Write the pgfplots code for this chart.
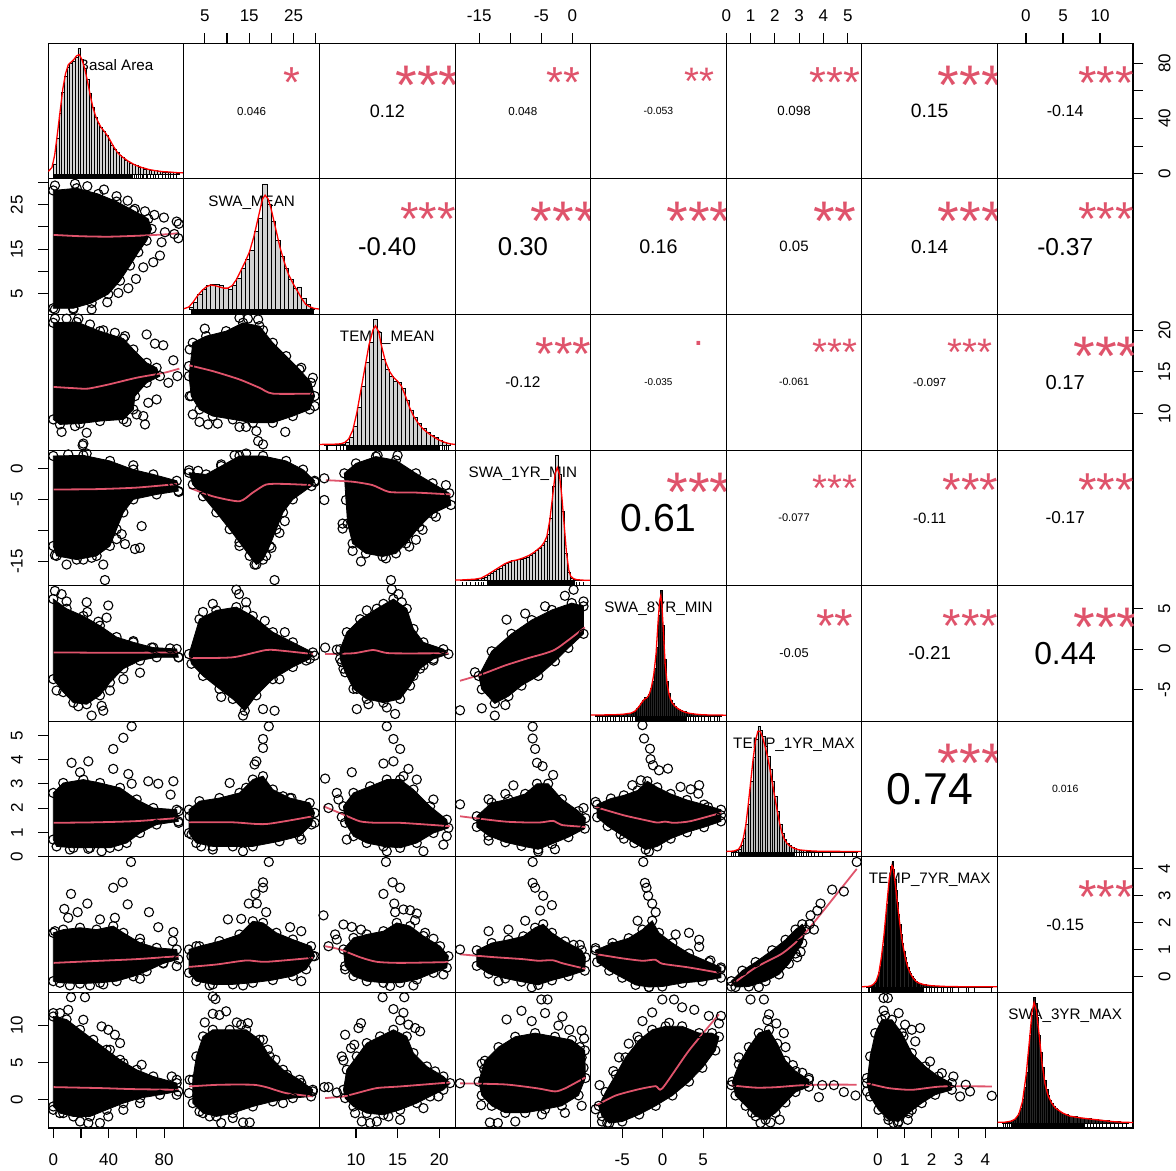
\documentclass[border=0pt]{standalone}
\usepackage{fontspec}
\setmainfont{Liberation Sans}
\usepackage{pgfplots}
\pgfplotsset{compat=1.18}
\usepgfplotslibrary{groupplots}
\definecolor{smoothc}{HTML}{DF536B}
\definecolor{starc}{HTML}{DF536B}
\definecolor{rlg}{HTML}{D3D3D3}
\pgfplotsset{
 core/.style={fill=black, draw=black, line width=0.8pt, mark=o, mark size=4.6pt, mark options={fill=none, draw=black, line width=1.1pt}},
 pts/.style={only marks, black, mark=o, mark size=4.6pt, mark options={line width=1.1pt}},
 sm/.style={color=smoothc, line width=1.8pt, no marks, smooth, tension=0.4},
 bars/.style={ybar interval, fill=rlg, draw=black},
 dens/.style={color=red, line width=1.3pt, no marks},
 rug/.style={only marks, black, mark=|, mark size=2.05pt, mark options={line width=0.6pt}},
 X1/.style={xmin=-3.6,xmax=94.3}, Y1/.style={ymin=-3.6,ymax=94.3},
 X2/.style={xmin=0.3,xmax=30.8}, Y2/.style={ymin=0.3,ymax=30.8},
 X3/.style={xmin=5.62,xmax=21.9}, Y3/.style={ymin=5.62,ymax=21.9},
 X4/.style={xmin=-18.9,xmax=2.95}, Y4/.style={ymin=-18.9,ymax=2.95},
 X5/.style={xmin=-8.9,xmax=7.85}, Y5/.style={ymin=-8.9,ymax=7.85},
 X6/.style={xmin=0,xmax=5.58}, Y6/.style={ymin=0,ymax=5.58},
 X7/.style={xmin=-0.6,xmax=4.45}, Y7/.style={ymin=-0.6,ymax=4.45},
 X8/.style={xmin=-3.85,xmax=14.45}, Y8/.style={ymin=-3.85,ymax=14.45},
 D1/.style={xmin=-3.68,xmax=95.68,ymin=-4,ymax=104},
 D2/.style={xmin=-0.16,xmax=31.16,ymin=-4,ymax=104},
 D3/.style={xmin=5.38,xmax=22.12,ymin=-4,ymax=104},
 D4/.style={xmin=-19.34,xmax=3.34,ymin=-4,ymax=104},
 D5/.style={xmin=-9.14,xmax=8.14,ymin=-4,ymax=104},
 D6/.style={xmin=-0.008,xmax=5.608,ymin=-4,ymax=104},
 D7/.style={xmin=-0.64,xmax=4.49,ymin=-4,ymax=104},
 D8/.style={xmin=-3.94,xmax=14.69,ymin=-4,ymax=104},
 topt/.style={xtick pos=right, xticklabel pos=right, xticklabel shift=8pt},
 bott/.style={xtick pos=left, xticklabel pos=left, xticklabel shift=12pt},
 leftt/.style={ytick pos=left, yticklabel pos=left, yticklabel shift=12pt, yticklabel style={rotate=90, anchor=south}},
 rightt/.style={ytick pos=right, yticklabel pos=right, yticklabel shift=12pt, yticklabel style={rotate=90, anchor=north}},
 T2/.style={topt, xtick={5,10,15,20,25,30}, xticklabels={5,,15,,25,}},
 T4/.style={topt, xtick={-15,-10,-5,0}, xticklabels={-15,,-5,0}},
 T6/.style={topt, xtick={0,1,2,3,4,5}, xticklabels={0,1,2,3,4,5}},
 T8/.style={topt, xtick={0,5,10}, xticklabels={0,5,10}},
 B1/.style={bott, xtick={0,20,40,60,80}, xticklabels={0,,40,,80}},
 B3/.style={bott, xtick={10,15,20}, xticklabels={10,15,20}},
 B5/.style={bott, xtick={-5,0,5}, xticklabels={-5,0,5}},
 B7/.style={bott, xtick={0,1,2,3,4}, xticklabels={0,1,2,3,4}},
 L2/.style={leftt, ytick={5,10,15,20,25,30}, yticklabels={5,,15,,25,}},
 L4/.style={leftt, ytick={-15,-10,-5,0}, yticklabels={-15,,-5,0}},
 L6/.style={leftt, ytick={0,1,2,3,4,5}, yticklabels={0,1,2,3,4,5}},
 L8/.style={leftt, ytick={0,5,10}, yticklabels={0,5,10}},
 R1/.style={rightt, ytick={0,20,40,60,80}, yticklabels={0,,40,,80}},
 R3/.style={rightt, ytick={10,15,20}, yticklabels={10,15,20}},
 R5/.style={rightt, ytick={-5,0,5}, yticklabels={-5,0,5}},
 R7/.style={rightt, ytick={0,1,2,3,4}, yticklabels={0,1,2,3,4}},
}
\newcommand\cor[4]{%
 \node[inner sep=0pt, font=\fontsize{#2}{#2}\selectfont] at (rel axis cs:0.5,0.5) {#1};
 \node[inner sep=0pt, anchor=base, text=starc, font=\fontsize{#4}{#4}\selectfont, yshift={-0.573*#4pt}] at (rel axis cs:0.8,0.785) {#3};}
\newcommand\cordot[3]{%
 \node[inner sep=0pt, font=\fontsize{#2}{#2}\selectfont] at (rel axis cs:0.5,0.5) {#1};
 \node[inner sep=0pt, anchor=base, text=starc, font=\fontsize{#3}{#3}\selectfont, yshift={-0.05*#3pt}] at (rel axis cs:0.8,0.785) {.};}
\newcommand\scat[3]{%
 \addplot[core] coordinates {#1} -- cycle;
 \addplot[pts] coordinates {#2};
 \addplot[sm] coordinates {#3};}
\newcommand\diag[7]{%
 \node[font=\fontsize{15.2}{15.2}\selectfont, anchor=base, inner sep=0pt] at (rel axis cs:0.5,0.80) {#1};
 \addplot[bars, #7] coordinates {#2};
 \addplot[dens] coordinates {#3};
 \addplot[fill=black, draw=black, line width=0.4pt] coordinates {(#4,-4)(#5,-4)(#5,-0.76)(#4,-0.76)} -- cycle;
 \addplot[rug] coordinates {#6};}
\begin{document}
\begin{tikzpicture}
\begin{groupplot}[group style={group name=G, group size=8 by 8, horizontal sep=0pt, vertical sep=0pt},
 scale only axis, width=135.6pt, height=135.6pt, xtick=\empty, ytick=\empty,
 axis line style={line width=1.1pt}, tick style={line width=1.1pt, black}, major tick length=10pt, tick align=outside,
 tick label style={font=\fontsize{17}{17}\selectfont}]
%%%%%%%%%%%%%%%% ROW 1
\nextgroupplot[D1]
\diag{Basal Area}{(0,8)(2,28)(4,48)(6,65)(8,78)(10,85)(12,88)(14,90)(16,93)(18,100)(20,91)(22,84)(24,75)(26,64)(28,53)(30,45)(32,40)(34,37)(36,34)(38,31)(40,27)(42,23)(44,20)(46,17)(48,15)(50,13)(52,11)(54,10)(56,8.5)(58,7.5)(60,6.5)(62,5.5)(64,5)(66,4)(68,3.5)(70,3)(72,3)(74,2.5)(76,2)(78,2)(80,1.5)(82,1.5)(84,1)(86,1.5)(88,1)(90,0.5)(92,0.5)}
{(-3.7,2)(-1,5)(1,15)(3,32)(5,50)(7,68)(9,80)(11,87)(13,89)(15,91)(17,94)(19,95)(21,91)(23,84)(25,74)(27,63)(29,53)(31,46)(33,41)(35,37)(38,33)(41,28)(44,22)(47,17)(50,14)(55,10)(60,7)(65,5)(70,3.5)(75,2.5)(80,1.8)(85,1.5)(90,1)(95,0.8)}
{0}{57}{(58,-2.38)(59.5,-2.38)(61,-2.38)(62,-2.38)(63.5,-2.38)(65,-2.38)(66,-2.38)(68,-2.38)(69,-2.38)(71,-2.38)(73,-2.38)(75,-2.38)(77,-2.38)(80,-2.38)(82,-2.38)(84,-2.38)(86,-2.38)(88,-2.38)(90,-2.38)}{line width=0.5pt}
\nextgroupplot[X2,Y1,T2] \cor{0.046}{11.55}{*}{43.4}
\nextgroupplot[X3,Y1] \cor{0.12}{18.0}{***}{55.8}
\nextgroupplot[X4,Y1,T4] \cor{0.048}{11.6}{**}{43.4}
\nextgroupplot[X5,Y1] \cor{-0.053}{10.4}{**}{38.3}
\nextgroupplot[X6,Y1,T6] \cor{0.098}{13.3}{***}{43.4}
\nextgroupplot[X7,Y1] \cor{0.15}{19.3}{***}{55.8}
\nextgroupplot[X8,Y1,T8,R1] \cor{-0.14}{16.1}{***}{47.6}
%%%%%%%%%%%%%%%% ROW 2
\nextgroupplot[X1,Y2,L2]
\scat{(0.0,28.2)(16.9,28.7)(32.5,27.4)(45.7,25.7)(57.8,23.7)(68.6,21.8)(71.0,19.55)(67.4,16.9)(61.4,14.3)(55.4,11.3)(48.2,7.9)(39.7,4.9)(27.7,2.9)(14.5,1.7)(0.0,1.7)}
{(15.7,29.7)(24.6,29.15)(36.6,28.4)(45.7,26.9)(53.7,25.9)(59.0,24.05)(66.2,23.5)(73.0,22.7)(79.9,22.1)(89.1,21.2)(90.6,20.7)(87.4,18.4)(90.3,17.45)(80.6,18.8)(78.2,16.55)(77.0,13.55)(72.2,12.05)(65.0,10.9)(59.7,8.3)(54.2,6.2)(47.0,5.15)(39.0,3.05)(27.7,1.45)(14.5,1.45)(1.2,1.45)(1.2,29.3)}
{(0.2,18.2)(20,17.9)(40,17.8)(60,18.0)(80,18.3)(90.5,18.6)}
\nextgroupplot[D2]
\diag{SWA\_MEAN}{(1,2)(2,6)(3,12)(4,16)(5,19)(6,20)(7,20)(8,19)(9,17)(10,16)(11,19)(12,25)(13,33)(14,40)(15,47)(16,62)(17,73)(18,100)(19,84)(20,70)(21,55)(22,42)(23,33)(24,24)(25,17)(26,18)(27,9)(28,4)(29,1)(30,1)}
{(-0.2,0.5)(1,2)(2,6)(3,11)(4,15)(5,18)(6,19.5)(7,19)(8,18)(9,17)(10,17)(11,19)(12,24)(13,31)(14,38)(15,46)(16,58)(17,73)(18,88)(18.6,91)(19.3,88)(20,80)(21,65)(22,50)(23,38)(24,28)(25,21)(26,15)(27,9)(28,4)(29,2)(30,0.8)(31.2,0.3)}
{1.45}{29.7}{(1.45,-2.38)}{line width=0.5pt}
\nextgroupplot[X3,Y2] \cor{-0.40}{25.6}{***}{47.6}
\nextgroupplot[X4,Y2] \cor{0.30}{25.75}{***}{55.8}
\nextgroupplot[X5,Y2] \cor{0.16}{19.7}{***}{55.8}
\nextgroupplot[X6,Y2] \cor{0.05}{15.0}{**}{55.8}
\nextgroupplot[X7,Y2] \cor{0.14}{18.9}{***}{55.8}
\nextgroupplot[X8,Y2] \cor{-0.37}{24.5}{***}{47.6}
%%%%%%%%%%%%%%%% ROW 3
\nextgroupplot[X1,Y3]
\scat{(0.0,20.9)(16.9,21.0)(33.7,19.9)(50.6,19.0)(57.8,17.7)(67.4,16.1)(74.6,15.5)(77.0,14.5)(67.4,13.7)(59.0,12.1)(57.8,10.5)(50.6,9.3)(33.7,9.1)(19.3,8.8)(4.8,8.7)(0.0,9.3)}
{(1.2,21.4)(9.6,21.4)(18.1,21.4)(26.5,20.7)(36.1,20.0)(44.5,19.7)(51.8,19.3)(67.4,19.5)(73.4,18.4)(79.4,18.2)(86.7,16.4)(89.6,14.5)(83.1,13.7)(74.6,11.7)(68.6,11.3)(65.0,9.7)(60.2,9.9)(53.0,9.0)(66.2,8.7)(15.7,8.5)(6.0,7.8)(24.1,7.7)(21.7,6.4)(21.2,6.2)}
{(0.2,13.2)(15,13.05)(25,13.0)(40,13.5)(60,14.3)(80,14.9)(91,15.4)}
\nextgroupplot[X2,Y3]
\scat{(2.3,18.5)(5.3,19.3)(9.8,19.9)(13.6,20.9)(17.3,20.5)(20.3,18.5)(23.3,16.9)(26.3,15.3)(28.9,13.7)(29.7,12.1)(28.6,10.5)(24.8,9.7)(20.3,8.9)(15.8,8.9)(11.3,9.3)(6.8,9.7)(3.8,10.5)(1.95,12.1)(1.45,14.5)}
{(1.6,17.7)(1.45,15.7)(5.0,20.2)(12.8,21.5)(14.7,21.4)(17.0,21.3)(18.1,20.0)(26.7,15.5)(29.3,14.3)(29.7,10.9)(23.1,7.8)(16.6,7.9)(14.3,8.4)(12.8,8.4)(18.1,6.3)(17.0,6.7)(7.9,8.8)(5.7,8.7)(3.8,9.0)(2.3,9.9)(1.6,12.1)}
{(1.45,15.8)(6.8,15.1)(12.8,14.1)(17.3,13.1)(20.3,12.4)(29.3,12.4)}
\nextgroupplot[D3]
\diag{TEMP\_MEAN}{(6,0.3)(6.5,0.3)(7,0.4)(7.5,0.5)(8,0.8)(8.5,2)(9,6)(9.5,15)(10,30)(10.5,47)(11,66)(11.5,82)(12,100)(12.5,90)(13,68)(13.5,60)(14,55)(14.5,51)(15,50)(15.5,45)(16,36)(16.5,28)(17,22)(17.5,17)(18,13)(18.5,10)(19,8)(19.5,6)(20,4)(20.5,2.5)(21,1.2)(21.5,1.2)}
{(5.4,0.5)(7,0.6)(8,1)(8.5,2)(9,5)(9.5,12)(10,26)(10.5,44)(11,62)(11.5,80)(12,92)(12.3,95)(12.7,90)(13,80)(13.5,67)(14,59)(14.5,54)(15,51)(15.5,47)(16,39)(16.5,30)(17,23)(17.5,18)(18,14)(18.5,11)(19,8.5)(19.5,6.5)(20,4.5)(20.5,3)(21,1.8)(21.5,1)(22.1,0.5)}
{8.7}{20.2}{(6.2,-2.38)(6.4,-2.38)(7.5,-2.38)(8.0,-2.38)(8.3,-2.38)(20.5,-2.38)(20.8,-2.38)(21.0,-2.38)(21.3,-2.38)}{line width=0.5pt}
\nextgroupplot[X4,Y3] \cor{-0.12}{15.4}{***}{47.6}
\nextgroupplot[X5,Y3] \cordot{-0.035}{9.9}{38.3}
\nextgroupplot[X6,Y3] \cor{-0.061}{10.6}{***}{38.3}
\nextgroupplot[X7,Y3] \cor{-0.097}{11.7}{***}{38.3}
\nextgroupplot[X8,Y3,R3] \cor{0.17}{20.2}{***}{55.8}
%%%%%%%%%%%%%%%% ROW 4
\nextgroupplot[X1,Y4,L4]
\scat{(0.0,2.0)(21.7,2.1)(40.9,1.2)(57.8,-0.2)(72.2,-0.97)(89.1,-2.0)(90.3,-3.65)(74.6,-4.2)(57.8,-5.0)(50.6,-7.1)(45.7,-9.8)(40.9,-12.5)(31.3,-14.1)(16.9,-14.7)(2.4,-14.1)(0.0,-12.5)}
{(10.8,2.25)(24.1,2.4)(57.8,0.5)(86.7,-2.6)(90.6,-3.8)(63.8,-9.3)(62.6,-12.8)(59.0,-13.0)(49.4,-10.6)(51.8,-12.2)(36.1,-15.5)(37.3,-18.0)(6.0,-13.5)(1.2,-14.0)(9.6,-15.5)(21.7,-14.7)(27.7,-14.4)(45.7,-11.4)}
{(0.2,-3.4)(30,-3.35)(60,-3.1)(90.5,-2.5)}
\nextgroupplot[X2,Y4]
\scat{(1.45,-0.7)(5.3,-0.97)(8.7,0.37)(12.8,2.0)(18.1,2.0)(23.3,1.2)(27.1,-0.2)(29.7,-2.0)(29.0,-2.85)(24.8,-5.0)(22.6,-7.1)(21.1,-9.8)(19.6,-12.5)(18.1,-14.7)(16.6,-15.5)(15.1,-14.1)(12.8,-11.9)(10.6,-9.8)(7.6,-7.1)(4.6,-4.5)(2.3,-2.6)}
{(8.7,0.64)(11.7,2.1)(14.3,2.4)(29.7,-2.2)(23.0,-8.5)(21.8,-10.4)(20.0,-12.8)(18.8,-14.1)(16.2,-15.5)(20.7,-18.0)(12.8,-12.5)(1.45,-0.3)(3.5,-0.4)}
{(1.45,-3.1)(6.8,-4.5)(12.8,-5.3)(15.8,-3.9)(18.8,-2.6)(22.6,-2.5)(29.3,-2.7)}
\nextgroupplot[X3,Y4]
\scat{(8.6,-0.8)(10.0,0.8)(12.4,1.9)(14.8,1.3)(17.2,-0.8)(19.2,-2.4)(21.2,-4.0)(21.4,-5.9)(19.2,-7.3)(17.6,-9.4)(16.0,-12.1)(14.8,-13.7)(13.2,-14.2)(11.2,-13.7)(9.6,-12.1)(9.0,-8.9)(8.8,-5.1)}
{(6.2,-1.6)(6.2,-5.1)(8.4,-8.9)(8.4,-9.7)(15.0,2.1)(12.6,2.1)(20.8,-2.7)(19.6,-7.8)(18.0,-9.9)(17.2,-11.5)(16.4,-12.6)(10.6,-15.0)(13.6,-14.5)(14.2,-18.0)(9.6,-13.3)}
{(6.4,-1.9)(9.6,-2.15)(12.0,-2.7)(14.0,-3.8)(17.2,-3.9)(21.4,-4.2)}
\nextgroupplot[D4]
\diag{SWA\_1YR\_MIN}{(-18.5,0.3)(-18,0.3)(-17.5,0.5)(-17,0.5)(-16.5,1)(-16,1)(-15.5,1.5)(-15,2)(-14.5,3)(-14,4.5)(-13.5,6)(-13,7.5)(-12.5,9)(-12,10)(-11.5,12)(-11,14)(-10.5,15)(-10,16)(-9.5,16.5)(-9,17)(-8.5,17)(-8,18)(-7.5,19)(-7,20)(-6.5,22)(-6,24)(-5.5,26)(-5,28)(-4.5,31)(-4,37)(-3.5,50)(-3,75)(-2.5,100)(-2,85)(-1.5,55)(-1,22)(-0.5,7)(0,2)(0.5,1)(1,0.6)(1.5,0.4)(2,0.3)(2.5,0.3)}
{(-19.3,0.5)(-18,0.6)(-16,1.2)(-15,2)(-14,4.5)(-13,7.5)(-12,10.5)(-11,13.5)(-10,15.5)(-9,16.5)(-8,18)(-7,20)(-6,23)(-5,27)(-4.5,30)(-4,35)(-3.5,48)(-3,68)(-2.6,85)(-2.25,90)(-1.9,85)(-1.5,68)(-1.1,45)(-0.7,22)(-0.3,8)(0,3.5)(0.5,1.5)(1,0.8)(2,0.4)(3.3,0.3)}
{-14}{0.6}{(-18.1,-2.38)(-17.5,-2.38)(-16.8,-2.38)(-16,-2.38)(-15.5,-2.38)(-15,-2.38)(-14.6,-2.38)(1.0,-2.38)(1.5,-2.38)(2.1,-2.38)}{line width=0.55pt}
\nextgroupplot[X5,Y4] \cor{0.61}{39.1}{***}{55.8}
\nextgroupplot[X6,Y4] \cor{-0.077}{11.1}{***}{38.3}
\nextgroupplot[X7,Y4] \cor{-0.11}{15.0}{***}{47.6}
\nextgroupplot[X8,Y4] \cor{-0.17}{17.2}{***}{47.6}
%%%%%%%%%%%%%%%% ROW 5
\nextgroupplot[X1,Y5]
\scat{(0.0,6.2)(9.6,5.0)(21.7,4.1)(33.7,2.9)(45.7,1.5)(57.8,0.85)(72.2,0.2)(89.1,0.03)(90.3,-1.0)(74.6,-1.0)(62.6,-1.4)(50.6,-2.4)(40.9,-4.1)(33.7,-5.7)(24.1,-6.8)(14.5,-6.6)(7.2,-5.3)(0.0,-3.7)}
{(1.2,7.2)(6.0,6.8)(9.6,5.9)(24.1,5.8)(24.6,4.6)(39.7,5.4)(32.5,3.4)(38.5,3.9)(57.8,1.0)(71.0,0.2)(84.3,0.1)(90.5,-1.0)(62.6,-2.9)(50.6,-3.7)(40.9,-5.1)(36.1,-7.6)(27.7,-8.2)(18.1,-7.05)(2.4,-5.1)(34.9,-7.0)}
{(0.2,-0.4)(20,-0.42)(45,-0.45)(70,-0.42)(90.5,-0.4)}
\nextgroupplot[X2,Y5]
\scat{(1.45,-0.6)(3.8,3.7)(7.6,4.8)(12.1,5.2)(15.8,4.1)(20.3,2.1)(24.8,0.85)(29.3,-0.4)(28.6,-1.2)(24.8,-2.2)(20.3,-3.7)(16.6,-5.7)(14.0,-7.6)(11.3,-6.15)(8.3,-4.9)(4.6,-3.3)(2.0,-1.8)}
{(12.1,7.35)(12.7,6.8)(6.8,5.6)(14.3,5.8)(14.3,4.8)(18.5,3.5)(23.0,2.1)(4.6,4.6)(21.8,-3.7)(18.1,-7.4)(20.7,-7.6)(13.6,-8.2)(8.7,-5.9)(27.8,-1.4)(29.7,-0.8)}
{(1.45,-1.1)(11.3,-1.0)(18.8,-0.1)(22.6,-0.2)(29.3,-0.6)}
\nextgroupplot[X3,Y5]
\scat{(8.1,0.0)(8.9,2.1)(10.5,3.7)(12.5,5.0)(14.5,6.2)(16.1,5.0)(16.9,2.5)(18.1,0.85)(20.5,0.0)(21.1,-0.6)(19.3,-1.2)(17.7,-2.4)(16.5,-4.5)(15.3,-6.15)(13.3,-6.6)(11.3,-6.15)(9.7,-4.9)(8.7,-2.85)(8.1,-1.2)}
{(6.3,0.2)(7.7,-0.05)(8.3,-1.6)(8.5,-2.4)(10.1,-4.9)(10.1,-7.4)(11.5,-6.8)(13.7,-7.2)(14.7,-8.0)(14.3,7.4)(15.1,6.8)(15.5,5.8)(11.3,4.8)(13.3,5.6)(16.9,-3.3)(18.1,-2.0)(19.3,-1.4)}
{(6.3,-0.6)(9.7,-0.5)(12.1,-0.1)(14.1,-0.5)(21.1,-0.5)}
\nextgroupplot[X4,Y5]
\scat{(-15.1,-3.3)(-13.0,-0.26)(-9.8,1.9)(-6.55,3.6)(-3.3,4.85)(-0.1,5.7)(1.8,5.3)(1.8,1.9)(-0.64,0.15)(-2.8,-1.5)(-5.5,-3.3)(-8.2,-4.5)(-10.3,-5.8)(-12.5,-6.7)(-14.6,-4.95)}
{(-18.1,-7.55)(-14.6,-7.3)(-12.5,-8.2)(-10.8,-6.9)(-15.7,-2.85)(-10.6,3.65)(-7.6,4.4)(0.2,7.35)(1.8,5.9)(-1.2,6.6)(-4.4,5.3)}
{(-18.1,-3.9)(-14.6,-3.1)(-10.8,-2.0)(-7.1,-1.1)(-2.8,-0.05)(2.0,2.7)}
\nextgroupplot[D5]
\diag{SWA\_8YR\_MIN}{(-8.5,0.5)(-8,0.5)(-7.5,0.6)(-7,0.7)(-6.5,0.8)(-6,1)(-5.5,1.2)(-5,1.5)(-4.5,2)(-4,2.5)(-3.75,3)(-3.5,4)(-3.25,6)(-3,8)(-2.75,10)(-2.5,13)(-2.25,15)(-2,14)(-1.75,17)(-1.5,22)(-1.25,28)(-1,38)(-0.75,55)(-0.5,80)(-0.25,100)(0,72)(0.25,45)(0.5,28)(0.75,18)(1,13)(1.25,10)(1.5,8)(1.75,6.5)(2,5.5)(2.25,4.5)(2.5,4)(2.75,3.5)(3,3)(3.25,2.5)(3.5,2.2)(3.75,2)(4,1.6)(4.5,1.3)(5,1.1)(5.5,1)(6,0.8)(6.5,0.6)(7,0.5)(7.5,0.5)}
{(-9.1,1)(-8,1)(-6,1.2)(-5,1.6)(-4,2.5)(-3.5,4)(-3,7.5)(-2.5,12)(-2.2,14)(-2,14.5)(-1.7,17)(-1.4,23)(-1.1,33)(-0.8,50)(-0.55,75)(-0.35,92)(-0.2,96)(-0.05,88)(0.15,65)(0.35,42)(0.6,26)(0.9,16)(1.2,11)(1.6,8)(2,6)(2.5,4.2)(3,3)(3.5,2.3)(4,1.8)(5,1.2)(6,1)(7,1)(8.1,0.8)}
{-3.5}{3.0}{(-8.3,-2.38)(-8,-2.38)(-7.6,-2.38)(-7.3,-2.38)(-7,-2.38)(-6.6,-2.38)(-6.2,-2.38)(-6,-2.38)(-5.5,-2.38)(-5.2,-2.38)(-4.8,-2.38)(-4.5,-2.38)(-4.1,-2.38)(-3.8,-2.38)(3.3,-2.38)(3.6,-2.38)(3.9,-2.38)(4.2,-2.38)(4.6,-2.38)(5.0,-2.38)(5.3,-2.38)(5.8,-2.38)(6.1,-2.38)(6.6,-2.38)(7.0,-2.38)(7.2,-2.38)}{line width=0.8pt, fill=black!85}
\nextgroupplot[X6,Y5] \cor{-0.05}{12.8}{**}{47.6}
\nextgroupplot[X7,Y5] \cor{-0.21}{18.7}{***}{47.6}
\nextgroupplot[X8,Y5,R5] \cor{0.44}{31.8}{***}{55.8}
%%%%%%%%%%%%%%%% ROW 6
\nextgroupplot[X1,Y6,L6]
\scat{(0.0,2.63)(7.2,3.04)(21.7,3.18)(33.7,3.04)(48.2,2.84)(60.2,2.36)(72.2,2.01)(89.1,1.94)(90.3,1.46)(74.6,1.33)(62.6,0.98)(53.0,0.57)(40.9,0.37)(26.5,0.37)(14.5,0.37)(2.4,0.43)(0.0,0.71)}
{(56.6,5.37)(50.6,4.9)(43.3,4.44)(43.3,3.62)(25.3,3.93)(13.2,3.87)(19.3,3.48)(54.2,3.41)(56.6,3.01)(68.6,3.11)(75.8,3.01)(86.7,3.11)(84.7,2.56)(90.5,1.88)(90.5,1.4)(34.9,0.23)(47.0,0.44)(25.3,0.33)(12.0,0.3)}
{(0.2,1.40)(30,1.42)(60,1.47)(90.5,1.60)}
\nextgroupplot[X2,Y6]
\scat{(1.45,1.94)(3.8,2.29)(8.3,2.42)(12.8,2.63)(15.8,3.18)(18.1,3.32)(20.3,2.77)(24.1,2.42)(28.6,2.22)(29.7,1.81)(29.0,1.33)(26.3,0.85)(21.8,0.64)(15.8,0.43)(11.3,0.43)(6.8,0.43)(3.1,0.57)(1.45,0.98)}
{(19.4,5.37)(18.1,4.85)(18.1,4.48)(16.6,3.93)(16.2,3.8)(10.6,3.04)(14.3,2.84)(2.0,0.92)(1.6,1.67)(4.2,0.43)(6.8,0.3)(13.6,0.23)(26.7,0.71)(29.7,1.4)(22.6,2.49)(24.5,2.42)}
{(1.45,1.42)(11.3,1.42)(18.8,1.35)(29.3,1.67)}
\nextgroupplot[X3,Y6]
\scat{(8.5,2.08)(9.7,2.63)(11.7,2.9)(13.7,3.18)(15.3,3.18)(16.9,2.77)(18.9,2.08)(20.9,1.53)(21.1,1.19)(19.3,0.98)(17.3,0.57)(15.3,0.37)(13.3,0.43)(11.3,0.57)(9.7,0.85)(8.7,1.40)}
{(6.3,3.22)(6.7,2.01)(7.7,2.63)(7.9,2.36)(8.3,1.64)(8.9,0.71)(9.5,3.48)(13.7,5.37)(14.5,4.85)(15.3,4.44)(13.3,3.84)(14.5,3.93)(16.3,3.62)(15.7,3.32)(17.3,3.18)(19.3,2.36)(20.9,0.85)(18.1,0.23)(13.7,0.23)(20.5,0.5)}
{(6.1,2.08)(8.5,1.74)(10.5,1.46)(12.5,1.40)(15.3,1.40)(21.3,1.26)}
\nextgroupplot[X4,Y6]
\scat{(-15.4,1.67)(-13.0,2.23)(-10.3,2.37)(-7.6,2.59)(-5.7,3.01)(-3.9,3.01)(-1.7,2.37)(1.0,1.88)(2.1,1.59)(2.0,1.16)(-0.64,0.81)(-3.3,0.53)(-5.5,0.31)(-8.2,0.45)(-10.8,0.6)(-13.5,0.87)(-15.4,1.23)}
{(-18.1,2.16)(-6.4,5.36)(-6.4,4.87)(-6.0,4.44)(-5.7,3.87)(-4.8,3.73)(-3.1,3.37)(-9.5,2.94)(-10.8,2.59)(-13.5,2.37)(1.8,2.01)(-2.8,0.31)(-5.5,0.22)(-13.5,0.67)}
{(-18.1,1.67)(-10.8,1.45)(-5.5,1.41)(-3.1,1.48)(-1.7,1.31)(2.1,1.23)}
\nextgroupplot[X5,Y6]
\scat{(-8.1,2.15)(-6.4,2.40)(-4.8,2.53)(-3.1,2.73)(-1.9,3.11)(-0.67,2.86)(0.98,2.59)(3.0,2.34)(5.1,2.15)(7.2,1.94)(7.2,1.46)(5.1,1.22)(3.0,1.01)(0.98,0.75)(-0.67,0.43)(-2.1,0.30)(-3.5,0.57)(-5.2,0.92)(-6.8,1.26)(-8.1,1.63)}
{(-2.5,5.42)(-2.3,4.87)(-1.57,4.45)(-1.5,4.02)(-1.2,3.77)(-0.46,3.56)(0.65,3.63)(-2.7,3.15)(-3.75,2.95)(2.2,2.88)(3.45,2.78)(4.5,2.95)(4.4,2.60)(5.6,2.05)(7.2,1.71)(-8.3,2.26)(-1.7,0.22)(-4.8,0.75)}
{(-8.3,2.05)(-4.8,1.71)(-2,1.5)(-0.67,1.41)(0.3,1.45)(1.4,1.40)(3.45,1.47)(7.2,1.81)}
\nextgroupplot[D6]
\diag{TEMP\_1YR\_MAX}{(0.2,0.3)(0.3,0.5)(0.4,1)(0.5,2)(0.6,5)(0.7,11)(0.8,22)(0.9,38)(1.0,56)(1.1,75)(1.2,90)(1.3,100)(1.4,97)(1.5,92)(1.6,84)(1.7,76)(1.8,66)(1.9,56)(2.0,44)(2.1,32)(2.2,22)(2.3,15)(2.4,10)(2.5,7)(2.6,5)(2.7,3.5)(2.8,2.5)(2.9,2)(3.0,1.5)(3.1,1.2)(3.2,1)(3.3,0.8)(3.4,0.7)(3.5,0.5)(3.6,0.4)(3.7,0.3)(3.8,0.2)(4.0,0.2)(4.2,0.2)(4.4,0.2)(4.6,0.2)(4.8,0.2)(5.0,0.2)(5.2,0.2)(5.4,0.2)}
{(0,0.3)(0.3,0.6)(0.5,2)(0.6,5)(0.7,11)(0.8,21)(0.9,37)(1.0,55)(1.1,73)(1.2,88)(1.3,96)(1.4,96)(1.5,91)(1.6,84)(1.7,76)(1.8,66)(1.9,55)(2.0,44)(2.1,33)(2.2,23)(2.3,15)(2.4,10)(2.5,7)(2.6,5)(2.8,2.8)(3.0,1.6)(3.3,1)(3.6,0.6)(4,0.4)(5,0.3)(5.6,0.3)}
{0.5}{2.8}{(0.21,-2.38)(0.3,-2.38)(0.38,-2.38)(2.9,-2.38)(3.0,-2.38)(3.1,-2.38)(3.2,-2.38)(3.3,-2.38)(3.4,-2.38)(3.5,-2.38)(3.65,-2.38)(3.8,-2.38)(3.95,-2.38)(4.3,-2.38)(4.9,-2.38)(5.2,-2.38)(5.37,-2.38)}{line width=0.6pt, fill=black!25}
\nextgroupplot[X7,Y6] \cor{0.74}{44.6}{***}{55.8}
\nextgroupplot[X8,Y6] \cor{0.016}{10.5}{}{43.4}
%%%%%%%%%%%%%%%% ROW 7
\nextgroupplot[X1,Y7]
\scat{(0.0,1.62)(7.2,1.74)(19.3,1.81)(31.3,1.74)(43.3,1.87)(50.6,1.62)(62.6,1.25)(74.6,1.06)(89.1,1.0)(90.3,0.63)(79.4,0.48)(67.4,0.19)(57.8,0.0)(45.7,-0.18)(33.7,-0.24)(19.3,-0.27)(4.8,-0.24)(0.0,-0.18)}
{(56.1,4.26)(50.1,3.5)(43.3,3.3)(12.8,3.07)(24.6,2.71)(7.95,2.51)(53.7,2.68)(69.1,2.39)(17.6,2.39)(10.8,2.18)(33.7,2.12)(44.5,2.18)(75.8,1.83)(86.7,1.65)(86.2,1.31)(62.6,1.40)(62.6,-0.09)(89.1,0.38)(79.4,0.50)(1.2,1.68)(26.5,-0.34)(36.1,-0.3)(12.0,-0.34)}
{(0.2,0.50)(30,0.57)(60,0.64)(90.5,0.75)}
\nextgroupplot[X2,Y7]
\scat{(1.45,1.0)(3.8,1.12)(8.3,1.31)(12.8,1.56)(15.8,2.05)(18.1,1.99)(21.1,1.62)(24.8,1.37)(28.9,1.12)(29.7,0.75)(27.8,0.26)(24.8,0.01)(20.3,-0.14)(15.8,-0.24)(11.3,-0.30)(6.8,-0.30)(3.1,-0.18)(1.45,0.13)}
{(19.4,4.26)(18.1,3.5)(18.1,3.3)(16.4,3.07)(14.9,2.71)(16.7,2.71)(18.8,2.39)(10.2,2.12)(13.2,2.14)(24.2,1.83)(26.7,1.68)(3.1,1.12)(2.0,0.75)(6.1,-0.34)(13.6,-0.34)(26.7,-0.18)(29.3,0.75)}
{(1.45,0.35)(7.6,0.44)(14.3,0.59)(18.8,0.54)(29.3,0.69)}
\nextgroupplot[X3,Y7]
\scat{(8.5,1.0)(9.7,1.43)(11.3,1.56)(13.3,1.68)(14.9,1.99)(16.5,1.87)(18.1,1.5)(20.1,1.12)(21.1,0.75)(20.9,0.32)(19.3,0.13)(17.3,-0.12)(15.3,-0.24)(13.3,-0.24)(11.3,-0.18)(9.7,0.01)(8.7,0.38)}
{(6.1,2.27)(6.7,1.12)(7.5,1.56)(7.7,1.37)(8.5,1.93)(9.5,1.84)(10.6,1.74)(13.6,4.26)(14.4,3.5)(15.3,3.3)(13.3,3.07)(14.6,2.71)(14.7,2.39)(15.7,2.49)(16.5,2.46)(17.3,2.34)(17.1,2.09)(18.3,1.62)(19.3,1.4)(8.7,0.26)(14.1,-0.36)(16.9,-0.34)(20.5,0.07)}
{(6.3,1.12)(8.1,1.0)(10.5,0.71)(12.5,0.54)(15.3,0.5)(21.1,0.53)}
\nextgroupplot[X4,Y7]
\scat{(-15.4,0.97)(-13.0,1.24)(-10.3,1.36)(-7.9,1.49)(-6.0,1.81)(-4.7,1.94)(-3.3,1.62)(-1.2,1.30)(1.5,0.97)(2.1,0.71)(2.0,0.21)(-0.64,0.01)(-3.3,-0.15)(-5.5,-0.32)(-8.2,-0.2)(-10.8,-0.08)(-13.5,0.1)(-15.4,0.39)}
{(-18.1,1.0)(-6.4,4.26)(-6.4,3.48)(-6.0,3.3)(-4.7,3.0)(-7.6,2.07)(-13.5,1.68)(-10.3,1.74)(-3.3,2.65)(-5.2,2.45)(0.2,1.17)(1.2,1.17)(-6.55,-0.41)(-11.9,-0.18)}
{(-18.1,0.82)(-13,0.72)(-8,0.64)(-5.5,0.58)(-3.2,0.6)(-1.5,0.48)(2.1,0.28)}
\nextgroupplot[X5,Y7]
\scat{(-8.3,0.97)(-6.2,1.24)(-4.2,1.42)(-2.5,1.74)(-1.3,2.07)(-0.46,1.62)(1.2,1.24)(3.25,0.85)(5.7,0.53)(7.2,0.33)(7.2,-0.05)(4.9,-0.18)(2.4,-0.25)(-0.05,-0.38)(-1.7,-0.4)(-3.35,-0.32)(-5.0,-0.05)(-6.6,0.21)(-8.1,0.53)}
{(-8.3,1.05)(-2.4,4.26)(-2.2,3.48)(-2.0,3.3)(-1.8,3.0)(-1.3,2.71)(-3.1,2.07)(-0.87,2.39)(1.6,1.56)(3.25,1.62)(4.5,1.36)(4.5,1.1)(5.9,0.59)(7.15,0.27)(-6.2,1.1)(-1.7,-0.4)}
{(-8.3,0.83)(-5,0.67)(-2.5,0.58)(-0.9,0.62)(-0.05,0.47)(3.25,0.33)(7.2,0.12)}
\nextgroupplot[X6,Y7]
\scat{(0.21,-0.18)(0.66,0.21)(1.21,0.53)(1.89,0.97)(2.44,1.36)(2.85,1.74)(3.13,1.94)(3.27,1.74)(3.13,1.24)(2.85,0.85)(2.58,0.47)(2.17,0.07)(1.62,-0.18)(0.93,-0.38)(0.38,-0.4)}
{(5.37,4.26)(4.84,3.16)(4.36,3.23)(3.88,2.71)(3.75,2.45)(3.47,2.27)(3.43,1.94)(3.61,1.74)(2.99,1.49)(3.06,0.91)(2.92,0.71)(1.34,-0.4)(0.21,-0.38)}
{(0.21,-0.32)(1.21,0.33)(2.30,0.85)(3.13,1.49)(3.95,2.39)(5.37,4.0)}
\nextgroupplot[D7]
\diag{TEMP\_7YR\_MAX}{(-0.45,0.5)(-0.4,0.6)(-0.35,0.8)(-0.3,1)(-0.25,1.5)(-0.2,2.5)(-0.15,3.5)(-0.1,5)(-0.05,8)(0,12)(0.05,17)(0.1,25)(0.15,33)(0.2,43)(0.25,55)(0.3,66)(0.35,78)(0.4,88)(0.45,96)(0.5,100)(0.55,94)(0.6,86)(0.65,77)(0.7,68)(0.75,58)(0.8,50)(0.85,42)(0.9,35)(0.95,29)(1.0,24)(1.05,20)(1.1,16)(1.15,13)(1.2,11)(1.25,9)(1.3,7.5)(1.35,6)(1.4,5)(1.45,4.2)(1.5,3.5)(1.55,3)(1.6,2.5)(1.7,2)(1.8,1.7)(1.9,1.4)(2.0,1.2)(2.1,1)(2.2,0.9)(2.3,0.8)(2.4,0.7)(2.5,0.6)(2.6,0.4)(2.8,0.4)(3.0,0.4)(3.2,0.4)(3.4,0.4)(3.6,0.4)(3.8,0.4)(4.0,0.4)(4.2,0.4)(4.3,0.4)}
{(-0.64,0.5)(-0.4,0.8)(-0.3,1.2)(-0.2,2.5)(-0.1,5)(0,11)(0.1,24)(0.2,42)(0.3,65)(0.4,87)(0.5,97)(0.55,95)(0.6,87)(0.7,68)(0.8,50)(0.9,35)(1.0,24)(1.1,16)(1.2,11)(1.3,7.5)(1.4,5)(1.5,3.6)(1.7,2.2)(2,1.3)(2.5,0.8)(3,0.6)(4,0.5)(4.5,0.5)}
{-0.3}{1.7}{(-0.41,-2.38)(-0.36,-2.38)(1.8,-2.38)(1.9,-2.38)(2.0,-2.38)(2.1,-2.38)(2.2,-2.38)(2.35,-2.38)(2.45,-2.38)(2.6,-2.38)(2.7,-2.38)(2.8,-2.38)(3.0,-2.38)(3.3,-2.38)(3.4,-2.38)(3.6,-2.38)(4.26,-2.38)}{line width=0.8pt, fill=black!85}
\nextgroupplot[X8,Y7,R7] \cor{-0.15}{16.5}{***}{47.6}
%%%%%%%%%%%%%%%% ROW 8
\nextgroupplot[X1,Y8,L8,B1]
\scat{(0.0,11.2)(9.6,10.8)(19.3,9.41)(28.9,8.06)(38.5,6.71)(48.2,5.36)(60.2,4.01)(72.2,3.11)(89.1,2.21)(90.3,1.09)(77.0,0.64)(62.6,0.19)(50.6,-0.49)(38.5,-1.39)(26.5,-2.29)(14.5,-2.29)(4.8,-1.84)(0.0,-0.94)}
{(12.8,13.8)(22.9,13.8)(0.0,11.66)(4.8,11.66)(10.8,12.1)(21.7,10.76)(34.9,9.86)(39.7,9.41)(44.5,8.74)(40.9,6.71)(48.2,7.61)(63.8,4.69)(85.5,3.11)(89.1,2.66)(50.6,4.91)(0.0,-1.39)(7.2,-1.84)(19.3,-2.97)(25.3,-3.17)(33.7,-3.17)(39.7,-2.29)(50.6,-1.39)(62.6,-0.49)(89.1,0.64)}
{(0.2,1.67)(33.7,1.54)(57.8,1.4)(90.5,1.31)}
\nextgroupplot[X2,Y8]
\scat{(2.3,2.66)(3.1,5.81)(4.6,8.51)(6.8,9.41)(10.6,9.41)(14.3,9.41)(17.3,8.06)(19.6,5.81)(22.6,4.01)(26.3,2.66)(29.3,1.31)(28.9,0.41)(24.8,0.19)(20.3,-0.26)(15.8,-0.94)(11.3,-1.84)(7.6,-2.29)(4.6,-1.84)(2.3,-0.49)}
{(6.8,13.9)(7.4,13.55)(5.0,10.4)(6.8,11.57)(8.3,11.4)(9.8,11.9)(12.2,10.4)(13.2,10.1)(14.7,10.3)(18.1,8.06)(19.2,6.71)(20.9,5.36)(23.5,3.34)(26.7,2.21)(29.3,1.09)(1.6,2.66)(1.45,0.86)(3.8,-1.62)(6.1,-2.29)(8.7,-3.17)(11.3,-2.5)(13.6,-3.1)(15.1,-3.1)(22.6,-0.49)}
{(1.45,1.76)(8.3,1.99)(15.8,1.99)(18.8,1.67)(23.3,0.86)(29.3,0.41)}
\nextgroupplot[X3,Y8,B3]
\scat{(8.5,1.31)(8.9,4.01)(10.1,5.81)(11.3,7.61)(12.9,8.51)(14.5,9.41)(16.1,8.51)(16.9,6.26)(18.5,4.46)(20.5,3.11)(21.3,2.21)(20.5,1.31)(18.9,0.41)(17.3,-0.49)(15.3,-1.39)(13.3,-2.07)(11.3,-1.84)(9.7,-0.94)(8.7,0.19)}
{(6.2,1.67)(6.7,1.67)(7.7,0.95)(8.7,8.74)(8.3,5.81)(8.5,5.27)(9.4,6.94)(9.8,7.39)(10.3,9.64)(10.6,10.3)(13.2,13.8)(15.8,13.8)(14.5,12.2)(15.3,10.7)(15.7,11.7)(16.3,10.1)(17.1,9.64)(17.7,9.2)(19.5,3.79)(9.9,-1.84)(10.7,-2.97)(11.7,-3.17)(12.5,-2.97)(13.9,-2.29)(15.3,-2.74)(18.1,-1.17)(19.9,0.41)}
{(6.3,0.19)(8.5,0.41)(10.1,0.86)(12.5,1.54)(15.3,1.76)(21.3,2.3)}
\nextgroupplot[X4,Y8]
\scat{(-15.1,2.41)(-14.1,5.23)(-11.9,7.07)(-9.2,8.47)(-6.0,8.96)(-2.8,8.47)(-0.1,8.02)(2.0,6.62)(2.1,2.9)(1.0,0.56)(-1.7,-0.85)(-4.4,-1.32)(-7.6,-1.8)(-10.8,-1.8)(-13.0,-0.85)(-14.6,0.56)}
{(-18.1,2.18)(-5.0,13.5)(-4.0,13.5)(-8.2,11.97)(-10.6,10.8)(-6.55,10.58)(-4.4,11.66)(-1.6,11.2)(-2.25,9.97)(-0.5,9.41)(1.5,9.32)(1.9,8.24)(1.2,7.07)(1.5,5.68)(1.8,4.28)(-14.6,4.84)(-14.2,4.06)(-14.7,-0.76)(-13.3,-3.1)(-12.0,-3.17)(-9.2,-2.97)(-4.9,-2.02)(-1.2,-1.8)(1.5,-0.85)}
{(-18.1,2.18)(-10.8,2.03)(-5.5,1.49)(-2.8,1.09)(-1.2,1.49)(2.1,2.98)}
\nextgroupplot[X5,Y8,B5]
\scat{(-7.9,-0.85)(-7.05,1.01)(-5.8,3.34)(-4.6,5.68)(-2.9,8.02)(-1.3,9.41)(0.36,9.88)(2.4,9.88)(4.5,8.96)(6.1,8.96)(6.95,8.47)(6.5,6.62)(4.9,4.28)(3.25,2.41)(1.2,0.54)(-0.87,-0.85)(-2.9,-2.02)(-5.0,-2.97)(-6.6,-3.19)(-7.5,-2.25)}
{(-8.3,-1.32)(-7.8,1.94)(-7.5,-2.97)(-6.85,-3.17)(-6.1,3.83)(-5.4,5.68)(-4.2,7.54)(-2.5,10.58)(-0.05,13.5)(1.4,13.5)(0.8,10.35)(2.4,12.44)(3.9,12.11)(5.7,11.28)(6.95,10.26)(7.2,11.28)(-3.1,8.47)(-1.3,11.75)}
{(-8.3,-0.85)(-5.8,0.54)(-2.9,1.4)(-0.87,1.8)(-0.05,1.5)(3.25,6.62)(6.95,11.5)}
\nextgroupplot[X6,Y8]
\scat{(0.25,2.41)(0.52,4.74)(0.93,7.07)(1.34,8.96)(1.76,9.41)(2.10,7.54)(2.44,5.23)(2.85,3.83)(3.40,2.66)(3.40,1.72)(2.85,1.01)(2.44,-0.4)(2.03,-1.8)(1.62,-2.72)(1.21,-2.25)(0.80,-0.85)(0.38,0.54)}
{(1.0,13.5)(1.55,13.5)(1.76,11.5)(1.69,10.7)(2.06,10.26)(1.48,8.47)(2.37,8.96)(2.44,7.07)(2.74,4.64)(3.13,3.6)(3.40,2.9)(3.95,1.94)(4.43,1.94)(3.81,0.32)(4.84,1.01)(5.32,0.54)(0.21,1.94)(0.52,5.68)(1.07,-1.8)(1.41,-3.17)(1.82,-3.1)(2.2,-2.72)}
{(0.21,1.9)(1.2,1.6)(2.0,1.65)(3.0,1.9)(4.0,2.0)(5.37,2.0)}
\nextgroupplot[X7,Y8,B7]
\scat{(-0.41,2.21)(-0.29,5.81)(-0.1,8.96)(0.14,10.76)(0.52,10.76)(0.89,8.96)(1.26,6.26)(1.76,4.46)(2.25,3.11)(2.75,2.21)(2.75,1.31)(2.13,0.64)(1.63,-0.49)(1.14,-1.84)(0.77,-2.97)(0.39,-2.74)(0.02,-1.39)(-0.29,0.41)}
{(0.21,13.7)(0.37,13.7)(0.21,12.0)(0.27,11.3)(0.77,11.66)(1.01,10.1)(1.26,9.41)(1.57,9.64)(0.95,8.51)(1.39,7.84)(1.94,5.13)(2.38,3.56)(2.81,3.11)(3.27,1.99)(3.43,1.09)(3.06,0.41)(4.24,0.5)(-0.41,2.89)(-0.41,1.09)(0.58,-3.17)(0.74,-3.17)(0.39,-2.29)(1.11,-2.74)(1.26,-1.39)}
{(-0.41,2.21)(0.39,1.54)(1.26,1.31)(2.38,1.76)(4.24,1.76)}
\nextgroupplot[D8]
\diag{SWA\_3YR\_MAX}{(-3.25,0.5)(-3,0.5)(-2.75,0.7)(-2.5,1)(-2.25,1.3)(-2,1.7)(-1.75,2.3)(-1.5,3.5)(-1.25,5)(-1,8)(-0.75,12)(-0.5,19)(-0.25,28)(0,40)(0.25,55)(0.5,70)(0.75,86)(1,100)(1.25,95)(1.5,84)(1.75,70)(2,56)(2.25,44)(2.5,34)(2.75,27)(3,22)(3.25,18)(3.5,15.5)(3.75,13.5)(4,12)(4.25,10.5)(4.5,9.5)(4.75,8.5)(5,7.5)(5.25,7)(5.5,6.5)(5.75,6)(6,5.5)(6.5,5)(7,4.5)(7.5,4)(8,3.7)(8.5,3.3)(9,3)(9.5,2.7)(10,2.4)(10.5,2)(11,1.7)(11.5,1.4)(12,1.1)(12.5,0.9)(13,0.7)(13.5,0.5)(14,0.5)}
{(-3.9,0.5)(-3,0.6)(-2.5,1)(-2,1.6)(-1.5,3.2)(-1,7)(-0.5,17)(0,38)(0.5,68)(0.8,88)(1.1,96)(1.4,90)(1.8,70)(2.2,47)(2.6,31)(3,22)(3.5,16)(4,12)(5,8)(6,5.5)(7,4.5)(8,3.7)(9,3)(10,2.4)(11,1.7)(12,1.1)(13,0.7)(14,0.5)(14.7,0.4)}
{-2}{8}{(-3.17,-2.38)(-2.9,-2.38)(-2.6,-2.38)(-2.3,-2.38)(8.4,-2.38)(8.8,-2.38)(9.2,-2.38)(9.6,-2.38)(10.1,-2.38)(10.5,-2.38)(11,-2.38)(11.6,-2.38)(12.1,-2.38)(12.6,-2.38)(13.2,-2.38)(13.77,-2.38)}{line width=0.8pt, fill=black!85}
\end{groupplot}
\pgfresetboundingbox
\path[use as bounding box] ([shift={(-48.3pt,43.3pt)}]G c1r1.north west) rectangle ([shift={(43pt,-42.9pt)}]G c8r8.south east);
\end{tikzpicture}
\end{document}
